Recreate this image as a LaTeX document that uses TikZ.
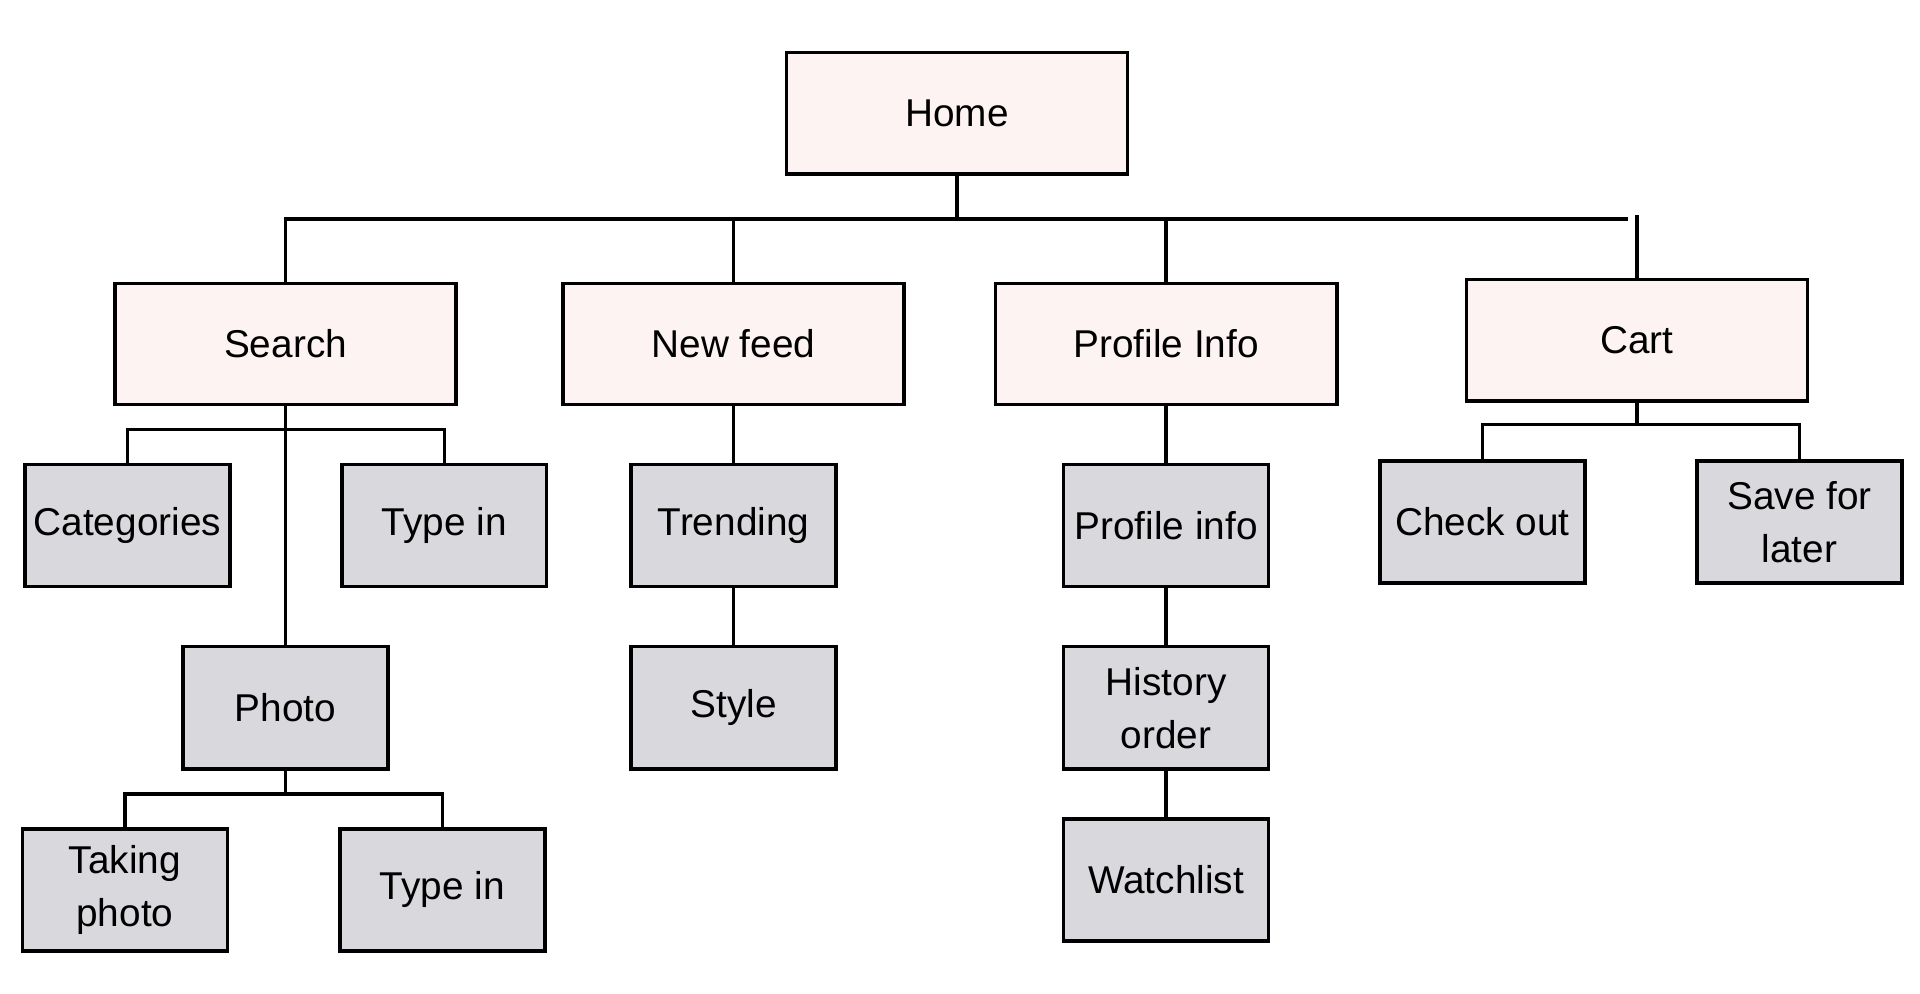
\documentclass[tikz,border=0pt]{standalone}
\usepackage{fontspec}
\setmainfont{Liberation Sans}
\usetikzlibrary{positioning}
\definecolor{mainfill}{HTML}{FDF3F3}
\definecolor{subfill}{HTML}{D9D8DC}

\begin{document}
\begin{tikzpicture}[x=0.0125cm, y=-0.0125cm,
	mainbox/.style={draw, line width=1pt, fill=mainfill, minimum width=3.465cm, minimum height=1.23cm, font=\fontsize{11.2}{15.3}\selectfont},
	subbox/.style={draw, line width=1pt, fill=subfill, minimum width=2.08cm, minimum height=1.24cm, inner xsep=2pt, align=center, font=\fontsize{11.2}{15.3}\selectfont},
	link/.style={line width=1pt}]
	\useasboundingbox (0,0) rectangle (1560,807);
	% first level
	\node[mainbox] (home) at (777.5,92) {Home};
	\node[mainbox] (search) at (232,279.5) {Search};
	\node[mainbox] (newfeed) at (596,279.5) {New feed};
	\node[mainbox] (profile) at (947.5,279.5) {Profile Info};
	\node[mainbox] (cart) at (1330,276.5) {Cart};
	% second level
	\node[subbox] (categories) at (103.5,427) {Categories};
	\node[subbox] (typeA) at (361,427) {Type in};
	\node[subbox] (photo) at (232,575) {Photo};
	\node[subbox] (taking) at (101.5,723) {Taking\\photo};
	\node[subbox] (typeB) at (359.5,723) {Type in};
	\node[subbox] (trending) at (596,427) {Trending};
	\node[subbox] (style) at (596,575) {Style};
	\node[subbox] (profinfo) at (947.5,427) {Profile info};
	\node[subbox] (history) at (947.5,575) {History\\order};
	\node[subbox] (watchlist) at (947.5,715) {Watchlist};
	\node[subbox] (checkout) at (1204.5,424) {Check out};
	\node[subbox] (savelater) at (1462,424) {Save for\\later};
	\coordinate (topbus) at (777.5,178);
	\coordinate (busend) at (1323,178);
	\coordinate (cartend) at (1330,175);
	\coordinate (searchbus) at (232,349);
	\coordinate (photobus) at (232,645);
	\coordinate (cartbus) at (1330,345);

	\draw[link] (home) -- (topbus) -- (busend);
	\draw[link] (search.north) |- (topbus);
	\draw[link] (newfeed.north) -- (newfeed.north |- topbus);
	\draw[link] (profile.north) -- (profile.north |- topbus);
	\draw[link] (cart.north) -- (cartend);
	\draw[link] (search) -- (photo);
	\draw[link] (categories.north) |- (searchbus) -| (typeA.north);
	\draw[link] (photo) -- (photobus);
	\draw[link] (taking.north) |- (photobus) -| (typeB.north);
	\draw[link] (newfeed) -- (trending) -- (style);
	\draw[link] (profile) -- (profinfo) -- (history) -- (watchlist);
	\draw[link] (cart) -- (cartbus);
	\draw[link] (checkout.north) |- (cartbus) -| (savelater.north);
\end{tikzpicture}
\end{document}
